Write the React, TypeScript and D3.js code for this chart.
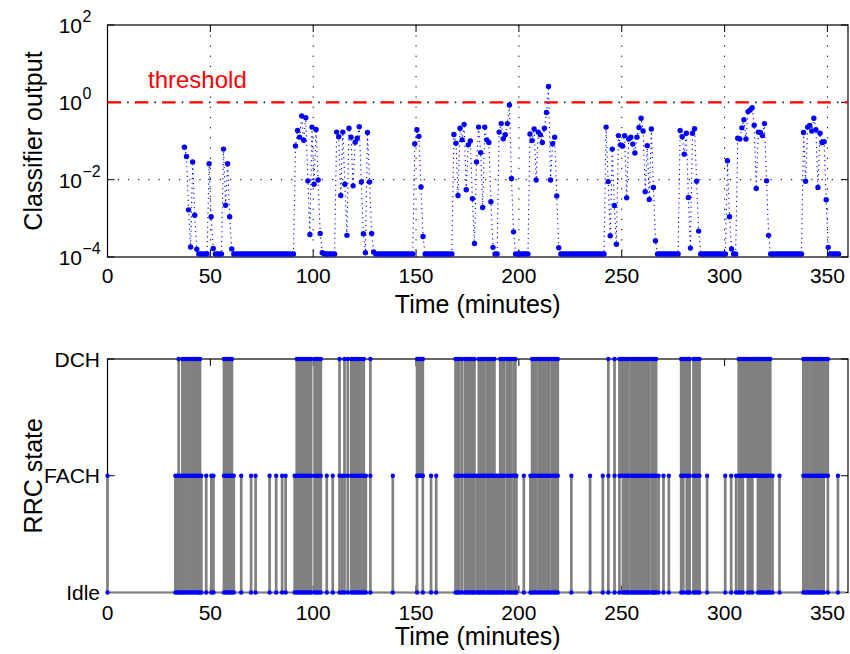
import React from 'react';
import * as d3 from 'd3';

// ---------- data ----------
const F = -3.92; // floor of classifier output (log10)
const classifierStart = 37.4; // minutes; one sample per minute
const classifierLog10: number[] = [
  -1.16, -1.40, -2.78, -3.74, -1.54, -2.92, -3.80, F, F, F, F, F,
  -1.59, -2.96, -3.78, F, F, F, F,
  -1.21, -2.66, -1.59, -2.96, -3.79,
  F, F, F, F, F, F, F, F, F, F, F, F, F, F, F, F, F, F, F, F, F, F, F, F, F, F, F, F, F, F,
  -1.13, -0.73, -0.90, -0.35, -0.98, -0.40, -2.03, -3.42, -0.64, -2.12, -0.70, -2.01, -3.39, -3.89,
  F, F, F, F, F, F,
  -0.77, -0.89, -2.41, -0.77, -2.12, -3.44, -0.67, -0.90, -2.16, -1.03, -0.93, -0.63, -2.06, -3.40, -3.89,
  -0.78, -2.06, -3.39, -3.87,
  F, F, F, F, F, F, F, F, F, F, F, F, F, F, F, F, F, F, F,
  -1.07, -0.71, -0.88, -2.19, -3.47,
  F, F, F, F, F, F, F, F, F, F, F, F, F, F,
  -0.83, -1.06, -2.41, -0.67, -0.97, -0.57, -2.26, -1.10, -1.00, -2.49, -3.65, -1.54, -0.64, -1.30, -2.72,
  -0.64, -0.97, -1.04, -2.57, -3.75, F, F,
  -0.77, -0.55, -0.94, -0.84, -0.55, -0.07, -1.97, -3.35,
  F, F, F, F, F, F, F,
  -0.82, -0.99, -0.69, -2.01, -0.77, -0.84, -1.04, -0.67, -0.26, 0.41, -2.01, -1.07, -0.90, -2.42, -3.76,
  F, F, F, F, F, F, F, F, F, F, F, F, F, F, F, F, F, F, F, F, F, F,
  -0.64, -2.05, -3.45, -1.21, -2.67, -3.67, -0.86, -1.10, -1.13, -0.86, -2.47, -0.95, -0.90, -1.08, -1.31,
  -0.90, -0.65, -0.41, -0.74, -2.31, -1.12, -2.51, -0.69, -2.20, -3.58,
  F, F, F, F, F, F, F, F, F, F, F,
  -0.73, -0.89, -1.34, -0.80, -2.46, -3.77, -0.80, -0.68, -2.04, -3.33,
  F, F, F, F, F, F, F, F, F, F, F, F, F,
  -1.51, -2.96, -3.79, F, F,
  -0.93, -0.95, -0.66, -0.45, -0.95, -0.24, -0.20, -0.14, -0.59, -2.23, -0.77, -0.78, -0.86, -0.55, -2.03, -3.44,
  F, F, F, F, F, F, F, F, F, F, F, F, F, F, F, F,
  -0.78, -2.04, -0.64, -0.60, -0.74, -0.41, -0.71, -2.20, -0.80, -1.04, -1.02, -2.52, -3.75,
  F, F, F, F, F,
];

const thresholdValue = 1;
const xTicks = [0, 50, 100, 150, 200, 250, 300, 350];
const yTopExponents = [-4, -2, 0, 2];
const stateLabels = ['Idle', 'FACH', 'DCH'];

// RRC state excursions: [time (min), from state, to state]  (0 Idle, 1 FACH, 2 DCH)
const rrcEvents: [number, number, number][] = [
  [0, 0, 1],
  [33.0, 0, 1], [33.9, 0, 1], [34.6, 0, 2], [35.6, 0, 1],
  [36.4, 0, 2], [37.4, 0, 2], [38.4, 0, 2], [39.4, 0, 2], [40.4, 0, 2], [41.4, 0, 2], [42.4, 0, 2], [43.4, 0, 2], [44.4, 0, 2], [45.0, 0, 2], [45.6, 0, 1],
  [48.0, 0, 1], [50.5, 0, 1], [51.5, 0, 1],
  [56.6, 0, 2], [57.6, 0, 2], [58.6, 0, 2], [59.6, 0, 2], [60.5, 0, 2], [61.4, 0, 1],
  [65.0, 0, 1], [69.8, 0, 1], [72.0, 0, 1], [78.8, 0, 1], [82.0, 0, 1], [84.9, 0, 1], [86.6, 0, 1],
  [91.0, 0, 1], [92.0, 0, 2], [93.0, 0, 2], [94.0, 0, 2], [95.0, 0, 2], [96.0, 0, 2], [97.0, 0, 2], [98.0, 0, 2], [99.0, 0, 2],
  [100.7, 0, 2], [101.7, 0, 2], [102.7, 0, 2], [103.7, 0, 2],
  [106.6, 0, 1], [109.5, 0, 1],
  [112.8, 0, 2], [114.0, 0, 1], [115.2, 0, 2], [116.8, 0, 2], [118.5, 0, 2], [119.5, 0, 2], [120.5, 0, 2], [121.5, 0, 2], [122.5, 0, 2], [123.5, 0, 2], [124.6, 0, 2], [125.6, 0, 1], [127.8, 0, 2],
  [138.7, 0, 1],
  [150.5, 0, 2], [151.2, 1, 2], [151.9, 1, 2], [152.6, 1, 2], [153.3, 0, 2],
  [157.3, 0, 1], [159.8, 0, 1],
  [169.2, 0, 2], [170.2, 0, 2], [170.9, 0, 2], [172.2, 0, 2], [173.7, 0, 2], [174.7, 0, 2], [175.7, 0, 2], [176.7, 0, 2], [177.6, 0, 2], [178.4, 0, 2],
  [179.7, 0, 1], [180.5, 0, 2], [181.5, 0, 2], [182.5, 0, 2], [183.2, 0, 2], [184.4, 0, 2], [185.4, 0, 2], [186.4, 0, 2], [187.4, 0, 2], [188.1, 0, 2],
  [189.1, 0, 1], [189.8, 0, 1], [190.9, 0, 2], [191.9, 0, 2], [192.9, 0, 2], [194.3, 0, 2], [195.3, 0, 2], [196.3, 0, 2], [197.5, 0, 2], [198.3, 0, 2], [198.8, 0, 1],
  [202.4, 0, 1],
  [205.6, 0, 1], [206.4, 0, 2], [207.4, 0, 2], [208.4, 0, 2], [209.6, 0, 2], [210.6, 0, 2], [211.6, 0, 2], [212.8, 0, 2], [213.8, 0, 2], [214.8, 0, 2], [216.0, 0, 2], [217.0, 0, 2], [218.0, 0, 2], [218.9, 0, 2],
  [225.5, 0, 1], [234.6, 0, 1],
  [240.8, 0, 1], [243.5, 0, 2], [246.5, 0, 2],
  [248.9, 0, 2], [249.9, 1, 2], [250.6, 0, 2], [251.6, 0, 2], [252.6, 0, 2], [253.3, 0, 2], [254.6, 0, 2], [255.5, 0, 2], [256.4, 0, 2], [257.4, 0, 2], [258.4, 0, 2], [259.4, 0, 2], [260.4, 0, 2], [261.4, 0, 2], [262.4, 0, 2], [263.2, 0, 2], [264.5, 0, 2], [265.3, 0, 2], [266.0, 0, 2], [266.7, 0, 2], [267.9, 0, 1],
  [270.3, 0, 1], [272.9, 0, 1],
  [278.9, 0, 2], [279.9, 0, 2], [280.7, 1, 2], [281.6, 0, 2], [282.5, 0, 2], [283.0, 0, 2], [284.9, 0, 2], [285.9, 0, 2], [286.9, 0, 2], [287.8, 0, 2], [291.5, 0, 1],
  [300.3, 0, 1], [303.2, 0, 1], [305.6, 0, 1], [306.9, 0, 2], [307.9, 0, 2], [308.9, 0, 2], [309.9, 1, 2], [310.6, 1, 2], [311.3, 0, 2], [312.3, 0, 2], [313.5, 0, 2], [314.5, 1, 2], [315.4, 1, 2],
  [316.2, 0, 2], [317.2, 0, 2], [318.2, 0, 2], [319.2, 0, 2], [320.2, 0, 2], [321.2, 0, 2], [322.2, 0, 2], [323.3, 0, 1], [326.7, 0, 1],
  [338.3, 0, 2], [339.3, 0, 2], [340.3, 0, 2], [341.3, 0, 2], [342.3, 0, 2], [343.3, 0, 2], [344.3, 0, 2], [345.3, 0, 2], [346.3, 0, 2], [347.3, 0, 2], [348.2, 0, 2], [349.3, 1, 2], [350.2, 0, 2],
  [355.1, 0, 1],
];
const rrcEnd = 359;

// ---------- layout ----------
const W = 850;
const H = 654;
const L = 107.5;
const R = 848;
const TOP1 = 25;
const BOT1 = 257;
const TOP2 = 359;
const BOT2 = 592.5;
const FONT = '"Liberation Sans", Arial, Helvetica, sans-serif';
const TICK = 7;

export default function App() {
  const x = d3.scaleLinear().domain([0, 360]).range([L, R]);
  const yTop = d3.scaleLog().domain([1e-4, 1e2]).range([BOT1, TOP1]);
  const yBot = d3.scaleLinear().domain([0, 2]).range([BOT2, TOP2]);

  const pts = classifierLog10.map((e, i) => ({ t: classifierStart + i, v: Math.pow(10, e) }));
  const linePath = d3
    .line<{ t: number; v: number }>()
    .x((d) => x(d.t))
    .y((d) => yTop(d.v))(pts) as string;

  const thrY = yTop(thresholdValue);

  const dots: { t: number; s: number }[] = [];
  rrcEvents.forEach(([t, a, b]) => {
    for (let s = a; s <= b; s++) dots.push({ t, s });
  });

  const supText = (e: number) => (e < 0 ? '\u2212' + Math.abs(e) : String(e));

  return (
    <svg
      width={W}
      height={H}
      style={{ position: 'absolute', left: 0, top: 0, background: '#fff' }}
      fontFamily={FONT}
    >
      <rect x={0} y={0} width={W} height={H} fill="#fff" />

      {/* ===== top panel ===== */}
      {xTicks.filter((t) => t > 0).map((t) => (
        <line key={'vg' + t} x1={x(t)} x2={x(t)} y1={TOP1} y2={BOT1} stroke="#000" strokeWidth={1} strokeDasharray="1.3,8.9" />
      ))}
      <line x1={L} x2={R} y1={yTop(1e-2)} y2={yTop(1e-2)} stroke="#000" strokeWidth={1} strokeDasharray="1.3,8.9" />

      <rect x={L} y={TOP1} width={R - L} height={BOT1 - TOP1} fill="none" stroke="#000" strokeWidth={1.2} />
      {xTicks.map((t) => (
        <g key={'xt1' + t}>
          <line x1={x(t)} x2={x(t)} y1={BOT1} y2={BOT1 - TICK} stroke="#000" strokeWidth={1} />
          <line x1={x(t)} x2={x(t)} y1={TOP1} y2={TOP1 + TICK} stroke="#000" strokeWidth={1} />
          <text x={x(t)} y={BOT1 + 26} fontSize={21} textAnchor="middle">{t}</text>
        </g>
      ))}
      {yTopExponents.map((e) => {
        const yy = yTop(Math.pow(10, e));
        return (
          <g key={'yt1' + e}>
            <line x1={L} x2={L + TICK} y1={yy} y2={yy} stroke="#000" strokeWidth={1} />
            <line x1={R} x2={R - TICK} y1={yy} y2={yy} stroke="#000" strokeWidth={1} />
            <text x={82} y={yy + 8} fontSize={21} textAnchor="end">10</text>
            <text x={82.5} y={yy - 3} fontSize={16} textAnchor="start">{supText(e)}</text>
          </g>
        );
      })}

      <line x1={L} x2={R} y1={thrY} y2={thrY} stroke="#ff0000" strokeWidth={2.2} strokeDasharray="13.5,13.8" />
      <line x1={L} x2={R} y1={thrY} y2={thrY} stroke="#222" strokeWidth={1.6} strokeDasharray="1.6,25.7" strokeDashoffset={-19.6} />
      <text x={148} y={88} fontSize={24} fill="#ff0000">threshold</text>

      <path d={linePath} fill="none" stroke="#0000ff" strokeWidth={1.1} strokeDasharray="1.2,3.6" />
      {pts.map((d, i) => (
        <circle key={'p' + i} cx={x(d.t)} cy={yTop(d.v)} r={2.7} fill="#0000ff" />
      ))}

      <text x={(L + R) / 2} y={313} fontSize={25} textAnchor="middle">Time (minutes)</text>
      <text transform={`translate(42,${(TOP1 + BOT1) / 2}) rotate(-90)`} fontSize={25} textAnchor="middle">Classifier output</text>

      {/* ===== bottom panel ===== */}
      <rect x={L} y={TOP2} width={R - L} height={BOT2 - TOP2} fill="none" stroke="#000" strokeWidth={1.2} />
      {xTicks.map((t) => (
        <g key={'xt2' + t}>
          <line x1={x(t)} x2={x(t)} y1={BOT2} y2={BOT2 - TICK} stroke="#000" strokeWidth={1} />
          <line x1={x(t)} x2={x(t)} y1={TOP2} y2={TOP2 + TICK} stroke="#000" strokeWidth={1} />
          <text x={x(t)} y={BOT2 + 27} fontSize={21} textAnchor="middle">{t}</text>
        </g>
      ))}
      {stateLabels.map((lab, s) => (
        <g key={'yt2' + s}>
          <line x1={L} x2={L + TICK} y1={yBot(s)} y2={yBot(s)} stroke="#000" strokeWidth={1} />
          <line x1={R} x2={R - TICK} y1={yBot(s)} y2={yBot(s)} stroke="#000" strokeWidth={1} />
          <text x={100} y={yBot(s) + 7.5} fontSize={21} textAnchor="end">{lab}</text>
        </g>
      ))}

      <line x1={x(0)} x2={x(rrcEnd)} y1={yBot(0)} y2={yBot(0)} stroke="#808080" strokeWidth={2} />
      {rrcEvents.map(([t, a, b], i) => (
        <line key={'ev' + i} x1={x(t)} x2={x(t)} y1={yBot(a)} y2={yBot(b)} stroke="#808080" strokeWidth={2.7} />
      ))}
      {dots.map((d, i) => (
        <circle key={'d' + i} cx={x(d.t)} cy={yBot(d.s)} r={2.2} fill="#0000ff" />
      ))}

      <text x={(L + R) / 2} y={645} fontSize={25} textAnchor="middle">Time (minutes)</text>
      <text transform={`translate(42,${(TOP2 + BOT2) / 2}) rotate(-90)`} fontSize={25} textAnchor="middle">RRC state</text>
    </svg>
  );
}
